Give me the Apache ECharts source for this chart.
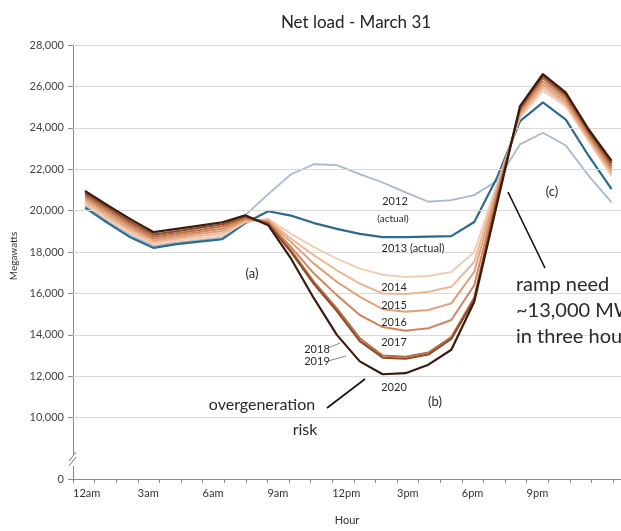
<!DOCTYPE html>
<html>
<head>
<meta charset="utf-8">
<script src="https://cdn.jsdelivr.net/npm/echarts@6/dist/echarts.min.js"></script>
<style>html,body{margin:0;padding:0;background:#fff;}#c{width:621px;height:531px;}</style>
</head>
<body>
<div id="c"></div>
<script>
// ---- data ----
const hours = [0,1,2,3,4,5,6,7,8,9,10,11,12,13,14,15,16,17,18,19,20,21,22,23];
const hourLabels = ['12am','3am','6am','9am','12pm','3pm','6pm','9pm'];
const yBase = 7040; // bottom of the broken axis, labelled "0"
const yTickValues = [7040,10000,12000,14000,16000,18000,20000,22000,24000,26000,28000];
const yTickLabels = ['0','10,000','12,000','14,000','16,000','18,000','20,000','22,000','24,000','26,000','28,000'];
const gridValues = [10000,12000,14000,16000,18000,20000,22000,24000,26000,28000];
const years = ['2012','2013','2014','2015','2016','2017','2018','2019','2020'];
const load2012 = [20250,19480,18800,18300,18450,18580,18700,19780,20800,21760,22240,22200,21760,21360,20880,20430,20510,20750,21440,23200,23760,23150,21680,20400];
const load2013 = [20150,19400,18700,18200,18380,18500,18620,19400,19970,19760,19400,19120,18880,18720,18720,18750,18770,19450,21600,24320,25230,24400,22640,21040];
const load2014 = [20350,19580,18900,18380,18540,18670,18800,19450,19600,18880,18240,17680,17200,16900,16800,16840,17040,18000,21300,24500,25800,25050,23360,21680];
const load2015 = [20450,19690,19010,18470,18630,18770,18910,19500,19550,18640,17840,17120,16480,16000,15970,16080,16320,17520,21150,24600,25950,25150,23450,21800];
const load2016 = [20550,19800,19120,18560,18720,18870,19020,19560,19500,18480,17440,16560,15840,15240,15120,15200,15520,17040,21000,24700,26100,25250,23550,21920];
const load2017 = [20650,19910,19230,18650,18810,18970,19130,19620,19450,18240,16960,15920,14960,14380,14200,14320,14720,16400,20850,24800,26250,25380,23650,22040];
const load2018 = [20750,20020,19340,18750,18910,19070,19240,19680,19400,18080,16560,15280,13840,13000,12950,13150,13900,15800,20650,24900,26400,25500,23750,22160];
const load2019 = [20850,20130,19450,18850,19010,19170,19340,19730,19350,18000,16450,15150,13700,12900,12850,13050,13800,15700,20550,24950,26500,25600,23830,22280];
const load2020 = [20950,20250,19570,18960,19120,19280,19440,19780,19300,17680,15760,14000,12720,12100,12150,12560,13280,15600,20350,25050,26600,25700,23920,22400];
const seriesValues = [load2012,load2013,load2014,load2015,load2016,load2017,load2018,load2019,load2020];
const colors = ['#a9b9cf','#2c6a8e','#f3cdb3','#ebb896','#dfa07b','#cf8660','#b86d42','#8f4b27','#3a1b10'];
const widths = [1.8,2.2,2,2,2,2,2,2,2.2];

const FONT = 'Lato, "Open Sans", sans-serif';
const chart = echarts.init(document.getElementById('c'), null, {renderer:'canvas'});

function txt(text, x, y, size, align) {
  return {type:'text', x:x, y:y, z:100, style:{text:text, font: size + 'px ' + FONT, fill:'#2a2a2a', align: align || 'center', verticalAlign:'middle'}};
}
function seg(x1,y1,x2,y2,w,c){
  return {type:'line', z:100, shape:{x1:x1,y1:y1,x2:x2,y2:y2}, style:{stroke:c||'#111', lineWidth:w||1.5}};
}

const lineSeries = years.map(function(y, i){
  return {name:y, type:'line', xAxisIndex:1, yAxisIndex:0, symbol:'none', smooth:false,
    lineStyle:{color:colors[i], width:widths[i]}, z: 3 + i,
    data: hours.map(function(h, k){ return [h, seriesValues[i][k]]; })};
});
const gridSeries = {name:'grid', type:'line', xAxisIndex:1, yAxisIndex:0, data:[], z:1, silent:true,
  markLine:{silent:true, symbol:['none','none'], label:{show:false}, animation:false,
    lineStyle:{color:'#d9d9d9', width:1, type:'solid'},
    data: gridValues.map(function(v){ return {yAxis:v}; })}};

const option = {
  animation:false,
  backgroundColor:'#fff',
  title:{text:'Net load - March 31', left:351, top:9, textAlign:'center',
    textStyle:{fontFamily:FONT, fontSize:17, fontWeight:'normal', color:'#222'}},
  grid:{left:73, right:0, top:45, bottom:49.3, containLabel:false},
  xAxis:[
    {type:'value', min:0, max:25.37, interval:1, position:'bottom',
     axisLine:{show:true, onZero:false, lineStyle:{color:'#8a8a8a', width:1}},
     axisTick:{show:true, length:4, lineStyle:{color:'#8a8a8a'}},
     splitLine:{show:false},
     axisLabel:{showMaxLabel:false, align:'left', margin:9, color:'#333', fontFamily:FONT, fontSize:11,
       formatter:function(v){ return (v % 3 === 0 && v/3 < hourLabels.length) ? hourLabels[v/3] : ''; }},
     name:'Hour', nameLocation:'middle', nameGap:36,
     nameTextStyle:{fontFamily:FONT, fontSize:11, color:'#333'}},
    {type:'value', min:-0.524, max:23.41, show:false}
  ],
  yAxis:{type:'value', min:yBase, max:28000,
    axisLine:{show:true, onZero:false, lineStyle:{color:'#8a8a8a', width:1}},
    axisTick:{show:true, length:5, customValues:yTickValues, lineStyle:{color:'#8a8a8a'}},
    splitLine:{show:false},
    axisLabel:{color:'#444', fontFamily:FONT, fontSize:11, margin:9, customValues:yTickValues,
      formatter:function(v){
        const i = yTickValues.indexOf(v);
        return i >= 0 ? yTickLabels[i] : '';
      }}
  },
  series: [gridSeries].concat(lineSeries),
  graphic:[
    {type:'text', x:14, y:256, rotation:Math.PI/2, style:{text:'Megawatts', font:'10px ' + FONT, fill:'#333', align:'center', verticalAlign:'middle'}},
    {type:'rect', shape:{x:70, y:455, width:6, height:11}, style:{fill:'#fff'}, z:99},
    seg(69,461,76,452,1,'#777'),
    seg(69,466,76,457,1,'#777'),
    txt('2012', 395, 201, 11),
    txt('(actual)', 393, 219, 10),
    txt('2013 (actual)', 413, 248, 11),
    txt('2014', 394, 287, 11),
    txt('2015', 394, 305, 11),
    txt('2016', 394, 322, 11),
    txt('2017', 394, 342, 11),
    txt('2018', 317, 349, 11),
    txt('2019', 317, 361, 11),
    seg(328,348,340,343,0.7,'#555'),
    seg(328,361,346,356,0.7,'#555'),
    txt('2020', 394, 387, 11),
    txt('(a)', 252, 274, 13),
    txt('(b)', 435, 402, 13),
    txt('(c)', 552, 192, 13),
    txt('overgeneration', 262, 405, 16),
    txt('risk', 305, 430, 16),
    seg(327,408,365,379,1.6,'#111'),
    txt('ramp need', 516, 285, 20, 'left'),
    txt('~13,000 MW', 516, 311, 20, 'left'),
    txt('in three hours', 516, 337, 20, 'left'),
    seg(508,192,545,268,1.6,'#111')
  ]
};
chart.setOption(option);
</script>
</body>
</html>
